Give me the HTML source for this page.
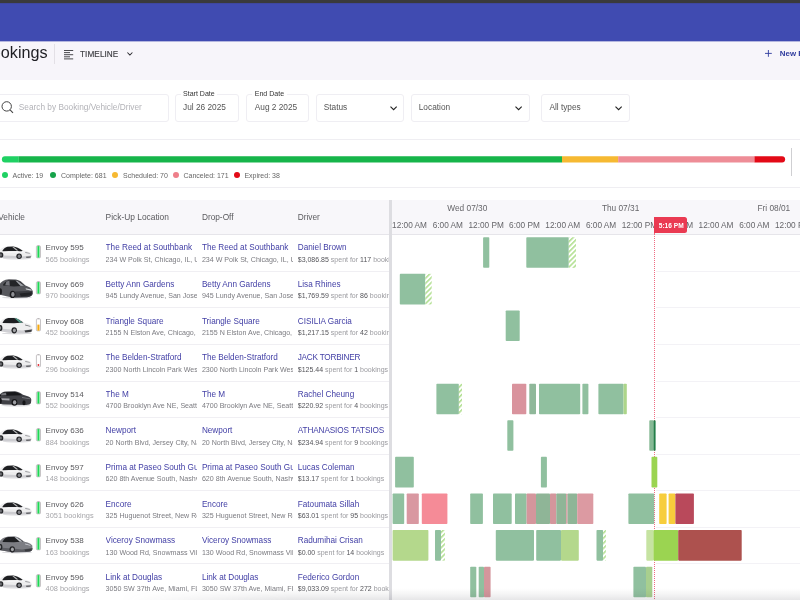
<!DOCTYPE html>
<html><head><meta charset="utf-8"><title>Bookings</title><style>
*{margin:0;padding:0;box-sizing:border-box}
html,body{width:800px;height:600px;overflow:hidden;background:#fff;font-family:"Liberation Sans", sans-serif;}
#root{position:relative;width:800px;height:600px;overflow:hidden;background:#fff;will-change:transform;transform:translateZ(0)}
.t{position:absolute;white-space:nowrap;line-height:1;display:block}
.b{position:absolute}
.clip{position:absolute;overflow:hidden}
.clip .t{position:absolute}
svg{position:absolute;overflow:visible}
.hatch{position:absolute;background:repeating-linear-gradient(135deg,#b3e093 0,#b3e093 1.5px,#ffffff 1.5px,#ffffff 3.5px)}
</style></head><body><div id="root">
<div class="b" style="left:0.00px;top:41.00px;width:800.00px;height:39.00px;background:#f7f5fa"></div>
<div class="b" style="left:0.00px;top:3.00px;width:800.00px;height:38.00px;background:#404bb1"></div>
<div class="b" style="left:0.00px;top:41.00px;width:800.00px;height:1.00px;background:#b4b6df"></div>
<div class="b" style="left:0.00px;top:0.00px;width:800.00px;height:3.00px;background:#3a3a3c"></div>
<div class="b" style="left:0.00px;top:3.00px;width:800.00px;height:1.00px;background:#3f47a0"></div>
<span class="t" style="top:44.00px;font-size:16.2px;color:#1f1f24;right:752.40px;">Bookings</span>
<div class="b" style="left:54.00px;top:44.00px;width:1.00px;height:20.00px;background:#e3e0e6"></div>
<svg style="left:64.4px;top:49.6px" width="9.2" height="9.4" viewBox="0 0 9.2 9.4"><g fill="#4a4a4e"><rect x="0" y="0" width="9.2" height="1"/><rect x="0" y="2.1" width="6" height="1"/><rect x="0" y="4.2" width="9.2" height="1"/><rect x="0" y="6.3" width="6" height="1"/><rect x="0" y="8.4" width="9.2" height="1"/></g></svg>
<span class="t" style="top:51.00px;font-size:8.2px;color:#3c3c40;letter-spacing:0.08px;left:80.00px;-webkit-text-stroke:0.15px #3c3c40;">TIMELINE</span>
<svg style="left:126.9px;top:52.4px" width="5.8" height="3.8" viewBox="0 0 5.8 3.8"><path d="M0.4 0.5 L2.9 3 L5.4 0.5" fill="none" stroke="#2e2e32" stroke-width="1.05"/></svg>
<svg style="left:765.2px;top:50px" width="6.8" height="6.8" viewBox="0 0 6.8 6.8"><path d="M3.4 0V6.8M0 3.4H6.8" stroke="#2f3b9d" stroke-width="0.9" fill="none"/></svg>
<span class="t" style="top:50.00px;font-size:7.9px;color:#2f3b9d;font-weight:700;left:779.80px;"><span>New</span> Booking</span>
<div class="b" style="left:-5.00px;top:94.00px;width:173.70px;height:27.50px;border:1px solid #efeef3;border-radius:3px;background:#fff"></div>
<div class="b" style="left:175.00px;top:94.00px;width:63.70px;height:27.50px;border:1px solid #efeef3;border-radius:3px;background:#fff"></div>
<div class="b" style="left:246.40px;top:94.00px;width:63.10px;height:27.50px;border:1px solid #efeef3;border-radius:3px;background:#fff"></div>
<div class="b" style="left:316.40px;top:94.00px;width:88.10px;height:27.50px;border:1px solid #efeef3;border-radius:3px;background:#fff"></div>
<div class="b" style="left:411.40px;top:94.00px;width:119.00px;height:27.50px;border:1px solid #efeef3;border-radius:3px;background:#fff"></div>
<div class="b" style="left:541.00px;top:94.00px;width:88.50px;height:27.50px;border:1px solid #efeef3;border-radius:3px;background:#fff"></div>
<svg style="left:1.0px;top:101.1px" width="13" height="13" viewBox="0 0 13 13"><circle cx="5.7" cy="5.4" r="4.7" fill="none" stroke="#444" stroke-width="1"/><path d="M9.1 8.9 L12 11.8" stroke="#444" stroke-width="1.1" fill="none"/></svg>
<span class="t" style="top:103.00px;font-size:8.3px;color:#b3b3b8;left:18.75px;">Search by Booking/Vehicle/Driver</span>
<span class="t" style="left:180.50px;top:89.00px;font-size:7.05px;color:#333;background:#fff;padding:1px 2.5px;font-weight:400"><span>Start Date</span></span>
<span class="t" style="left:252.25px;top:89.00px;font-size:7.05px;color:#333;background:#fff;padding:1px 2.5px;font-weight:400"><span>End Date</span></span>
<span class="t" style="top:103.00px;font-size:8.3px;color:#555;left:183.00px;">Jul 26 2025</span>
<span class="t" style="top:103.00px;font-size:8.3px;color:#555;left:254.75px;">Aug 2 2025</span>
<span class="t" style="top:103.00px;font-size:8.3px;color:#555;left:323.75px;">Status</span>
<span class="t" style="top:103.00px;font-size:8.3px;color:#555;left:418.75px;">Location</span>
<span class="t" style="top:103.00px;font-size:8.3px;color:#555;left:549.40px;">All types</span>
<svg style="left:390.00px;top:105.8px" width="7.2" height="4.6" viewBox="0 0 7.2 4.6"><path d="M0.5 0.6 L3.6 3.7 L6.7 0.6" fill="none" stroke="#222" stroke-width="1.1"/></svg>
<svg style="left:515.00px;top:105.8px" width="7.2" height="4.6" viewBox="0 0 7.2 4.6"><path d="M0.5 0.6 L3.6 3.7 L6.7 0.6" fill="none" stroke="#222" stroke-width="1.1"/></svg>
<svg style="left:614.60px;top:105.8px" width="7.2" height="4.6" viewBox="0 0 7.2 4.6"><path d="M0.5 0.6 L3.6 3.7 L6.7 0.6" fill="none" stroke="#222" stroke-width="1.1"/></svg>
<div class="b" style="left:0.00px;top:139.00px;width:800.00px;height:1.00px;background:#efeef2"></div>
<div class="b" style="left:0.00px;top:187.00px;width:800.00px;height:1.00px;background:#efeef2"></div>
<svg style="left:0;top:0" width="800" height="200" viewBox="0 0 800 200"><defs><clipPath id="pc"><rect x="1.9" y="156.35" width="783.2" height="6.1" rx="3.05"/></clipPath></defs><g clip-path="url(#pc)"><rect x="0" y="150" width="18.7" height="20" fill="#1fd163"/><rect x="18.6" y="150" width="543.5" height="20" fill="#16b54a"/><rect x="562" y="150" width="56.3" height="20" fill="#f6b932"/><rect x="618.2" y="150" width="136.4" height="20" fill="#ee8d97"/><rect x="754.5" y="150" width="60" height="20" fill="#e30a17"/></g></svg>
<div class="b" style="left:791.00px;top:148.00px;width:1.00px;height:27.50px;background:#cfcfd2"></div>
<div class="b" style="left:1.90px;top:172.30px;width:5.90px;height:5.90px;border-radius:50%;background:#1fd163"></div>
<span class="t" style="top:172.00px;font-size:7.0px;color:#666;left:12.50px;">Active: 19</span>
<div class="b" style="left:50.00px;top:172.30px;width:5.90px;height:5.90px;border-radius:50%;background:#16a34a"></div>
<span class="t" style="top:172.00px;font-size:7.0px;color:#666;left:61.00px;">Complete: 681</span>
<div class="b" style="left:112.20px;top:172.30px;width:5.90px;height:5.90px;border-radius:50%;background:#f6b932"></div>
<span class="t" style="top:172.00px;font-size:7.0px;color:#666;left:123.10px;">Scheduled: 70</span>
<div class="b" style="left:172.70px;top:172.30px;width:5.90px;height:5.90px;border-radius:50%;background:#ee7f8a"></div>
<span class="t" style="top:172.00px;font-size:7.0px;color:#666;left:183.50px;">Canceled: 171</span>
<div class="b" style="left:233.70px;top:172.30px;width:5.90px;height:5.90px;border-radius:50%;background:#e30a17"></div>
<span class="t" style="top:172.00px;font-size:7.0px;color:#666;left:244.40px;">Expired: 38</span>
<div class="b" style="left:0.00px;top:200.00px;width:800.00px;height:34.50px;background:#f8f7fa"></div>
<div class="b" style="left:0.00px;top:234.20px;width:800.00px;height:1.00px;background:#e6e5ea"></div>
<span class="t" style="top:213.00px;font-size:8.3px;color:#5a5a5e;right:775.00px;">Vehicle</span>
<span class="t" style="top:213.00px;font-size:8.4px;color:#5a5a5e;left:105.60px;">Pick-Up Location</span>
<span class="t" style="top:213.00px;font-size:8.3px;color:#5a5a5e;left:201.90px;">Drop-Off</span>
<span class="t" style="top:213.00px;font-size:8.3px;color:#5a5a5e;left:297.75px;">Driver</span>
<svg style="left:0;top:245.60px;filter:blur(0.3px)" width="32" height="13.4" viewBox="0 0 32 13.4"><ellipse cx="17" cy="12.5" rx="14" ry="0.9" fill="#dcdcdf"/><path d="M-1 5.4 C0.5 3 3 0.8 7 0.3 L13 0.1 C16 0.3 19 2 23.3 4.6 C27 5.2 30.4 6.2 31.2 7.4 C31.7 8.4 31.7 9.6 31.4 10.6 C31 11.8 29.6 12.3 27.6 12.3 L4 12.2 L-1 11.6Z" fill="#ededee"/><path d="M-1 9.2 L16 10 L22 10.6 L31.5 9.4 C31.6 10 31.5 10.4 31.4 10.6 C31 11.8 29.6 12.3 27.6 12.3 L4 12.2 L-1 11.6Z" fill="#cdcdd1"/><path d="M3 6.2 C9 5.6 16 5.6 22.5 5.4 L28 6.4 L22 6.6 C16 6.4 9 6.6 3 7Z" fill="#f8f8f9"/><path d="M2.4 4.8 C3.8 2.5 5.6 1 7.6 0.75 L13.2 0.55 C16 0.8 19 2.4 22.7 4.7 L21.4 5.25 C17 4.7 10 4.8 2.7 5.3Z" fill="#1d1e21"/><path d="M12.3 0.9 L13.9 0.9 L18.4 4.5 L16.4 4.55Z" fill="#ededee" opacity=".75"/><path d="M25.2 6.2 L29.8 7 L29.9 7.5 L25.4 6.9Z" fill="#6f7075"/><path d="M26 10.8 L31 10.4 L30.6 11.6 L26.4 11.8Z" fill="#3a3b3f"/><circle cx="19.1" cy="10.3" r="2.75" fill="#242528"/><ellipse cx="19.2" cy="10.3" rx="1.5" ry="1.7" fill="#85868b"/><ellipse cx="0.9" cy="8.9" rx="2.4" ry="2.7" fill="#242528"/><ellipse cx="0.7" cy="8.9" rx="1.2" ry="1.5" fill="#6f7075"/></svg>
<svg style="left:35.9px;top:244.60px" width="4.9" height="13.2" viewBox="0 0 4.9 13.2"><rect x="1.55" y="0" width="1.8" height="1" fill="#bcb8ba"/><rect x="0.4" y="0.9" width="4.1" height="11.9" rx="0.8" fill="#fff" stroke="#bcb8ba" stroke-width="0.85"/><rect x="1.4" y="1.1" width="2.1" height="11.5" fill="#1fd655"/></svg>
<span class="t" style="top:244.00px;font-size:8.05px;color:#5a5a5e;left:45.60px;">Envoy 595</span>
<span class="t" style="top:256.00px;font-size:7.4px;color:#a6a6aa;left:45.60px;">565 bookings</span>
<div class="clip" style="left:105.60px;top:234px;width:91.3px;height:37.6px">
<span class="t" style="top:10.00px;font-size:8.2px;color:#4340a6;left:0.00px;">The Reed at Southbank</span>
<span class="t" style="top:23.00px;font-size:7.1px;color:#7b7b80;left:0.00px;">234 W Polk St, Chicago, IL, USA</span>
</div>
<div class="clip" style="left:201.90px;top:234px;width:91.3px;height:37.6px">
<span class="t" style="top:10.00px;font-size:8.2px;color:#4340a6;left:0.00px;">The Reed at Southbank</span>
<span class="t" style="top:23.00px;font-size:7.1px;color:#7b7b80;left:0.00px;">234 W Polk St, Chicago, IL, USA</span>
</div>
<div class="clip" style="left:297.75px;top:234px;width:91.6px;height:37.6px">
<span class="t" style="top:10.00px;font-size:8.2px;color:#4340a6;left:0.00px;">Daniel Brown</span>
<span class="t" style="top:22.00px;font-size:7.0px;color:#9a9a9f;left:0.00px;"><span style="color:#55555a">$3,086.85</span> spent for <span style="color:#55555a">117</span> bookings</span>
</div>
<div class="b" style="left:0.00px;top:271.00px;width:389.00px;height:1.00px;background:#f0eff3"></div>
<svg style="left:0;top:279.10px;filter:blur(0.3px)" width="33" height="19.8" viewBox="0 0 33 19.8"><ellipse cx="17" cy="18.6" rx="15" ry="1.1" fill="#dcdcdf"/><path d="M-1 6 C1 2.6 4 0.6 9 0.3 L16 0.4 C19.5 0.8 22 3 25.5 6.4 C29 7.6 31.6 9.2 32.4 11.4 L32.6 14.8 C32.3 16.8 30.5 17.8 27 18.2 L12 18.6 L-1 15.4 Z" fill="#57585d"/><path d="M15 12.4 L32.5 11.8 L32.6 14.8 C32.3 16.8 30.5 17.8 27 18.2 L15 18.6Z" fill="#3a3b40"/><path d="M3 5.6 C5 2.6 7 1.4 10 1.2 L16 1.3 C19 1.8 21.4 3.8 24.6 6.8 L14 7.6 L3 6.4Z" fill="#232427"/><path d="M15.4 1.6 L17.6 1.9 L24.2 6.7 L20.6 7.1Z" fill="#b4b7bd" opacity=".85"/><path d="M6.4 2.5 L9.4 1.8 L9.8 6.7 L5.2 6.3Z" fill="#74757b"/><path d="M25.6 9.2 L31.3 10.5 L31.6 11.7 L26 10.5Z" fill="#d2d4d8"/><path d="M19.5 14.4 L32 13.2 L31.2 16.2 L21 17.4Z" fill="#222326"/><ellipse cx="12.6" cy="15.4" rx="2.9" ry="3.6" fill="#1b1b1e"/><ellipse cx="12.9" cy="15.4" rx="1.7" ry="2.3" fill="#8f9095"/><ellipse cx="0.2" cy="12.4" rx="1.8" ry="3.2" fill="#1b1b1e"/></svg>
<svg style="left:35.9px;top:281.20px" width="4.9" height="13.2" viewBox="0 0 4.9 13.2"><rect x="1.55" y="0" width="1.8" height="1" fill="#bcb8ba"/><rect x="0.4" y="0.9" width="4.1" height="11.9" rx="0.8" fill="#fff" stroke="#bcb8ba" stroke-width="0.85"/><rect x="1.4" y="1.1" width="2.1" height="11.5" fill="#1fd655"/></svg>
<span class="t" style="top:281.00px;font-size:8.05px;color:#5a5a5e;left:45.60px;">Envoy 669</span>
<span class="t" style="top:292.00px;font-size:7.4px;color:#a6a6aa;left:45.60px;">970 bookings</span>
<div class="clip" style="left:105.60px;top:271px;width:91.3px;height:37.6px">
<span class="t" style="top:10.00px;font-size:8.2px;color:#4340a6;left:0.00px;">Betty Ann Gardens</span>
<span class="t" style="top:22.00px;font-size:7.1px;color:#7b7b80;left:0.00px;">945 Lundy Avenue, San Jose, CA, USA</span>
</div>
<div class="clip" style="left:201.90px;top:271px;width:91.3px;height:37.6px">
<span class="t" style="top:10.00px;font-size:8.2px;color:#4340a6;left:0.00px;">Betty Ann Gardens</span>
<span class="t" style="top:22.00px;font-size:7.1px;color:#7b7b80;left:0.00px;">945 Lundy Avenue, San Jose, CA, USA</span>
</div>
<div class="clip" style="left:297.75px;top:271px;width:91.6px;height:37.6px">
<span class="t" style="top:10.00px;font-size:8.2px;color:#4340a6;left:0.00px;">Lisa Rhines</span>
<span class="t" style="top:21.00px;font-size:7.0px;color:#9a9a9f;left:0.00px;"><span style="color:#55555a">$1,769.59</span> spent for <span style="color:#55555a">86</span> bookings</span>
</div>
<div class="b" style="left:0.00px;top:307.00px;width:389.00px;height:1.00px;background:#f0eff3"></div>
<svg style="left:0;top:317.20px;filter:blur(0.3px)" width="33" height="17.4" viewBox="0 0 33 17.4"><ellipse cx="17" cy="16.4" rx="15" ry="1" fill="#dcdcdf"/><path d="M-1 6 C1 3 4 1 8 0.5 L14 0.3 C17.5 0.6 20.5 2.6 24 5.4 C28 6.4 31.6 7.8 32.3 9.6 L32.5 13 C32.2 15 30.4 15.8 27.5 16 L12 16.2 L-1 14Z" fill="#eeeeef"/><path d="M-1 11.4 L12 12.6 L22 13.6 L32.5 12 L32.5 13 C32.2 15 30.4 15.8 27.5 16 L12 16.2 L-1 14Z" fill="#cfcfd3"/><path d="M2.6 5.5 C4 3 6 1.4 8.4 1.1 L14 0.9 C17 1.2 20 3 23.4 5.6 L14 6.3 L2.8 6Z" fill="#1d1e21"/><path d="M14.6 1.2 L16.4 1.3 L22.6 5.45 L19.8 5.75Z" fill="#4f9a86"/><path d="M25 7.6 L30.4 9 L30.4 9.7 L25.2 8.5Z" fill="#77787d"/><path d="M24.5 13.6 L32 12.6 L31.4 14.8 L25.4 15.4Z" fill="#3a3b3f"/><ellipse cx="14.2" cy="13.3" rx="2.7" ry="3.1" fill="#242528"/><ellipse cx="14.399999999999999" cy="13.3" rx="1.5" ry="1.9" fill="#a3a4a8"/><ellipse cx="0.5" cy="11" rx="1.9" ry="2.9" fill="#242528"/><ellipse cx="0.2" cy="11" rx="0.9" ry="1.7" fill="#8a8b90"/></svg>
<svg style="left:35.9px;top:317.80px" width="4.9" height="13.2" viewBox="0 0 4.9 13.2"><rect x="1.55" y="0" width="1.8" height="1" fill="#bcb8ba"/><rect x="0.4" y="0.9" width="4.1" height="11.9" rx="0.8" fill="#fff" stroke="#bcb8ba" stroke-width="0.85"/><rect x="1.4" y="6.6" width="2.1" height="6.0" fill="#f5a90f"/></svg>
<span class="t" style="top:318.00px;font-size:8.05px;color:#5a5a5e;left:45.60px;">Envoy 608</span>
<span class="t" style="top:329.00px;font-size:7.4px;color:#a6a6aa;left:45.60px;">452 bookings</span>
<div class="clip" style="left:105.60px;top:307px;width:91.3px;height:37.6px">
<span class="t" style="top:11.00px;font-size:8.2px;color:#4340a6;left:0.00px;">Triangle Square</span>
<span class="t" style="top:23.00px;font-size:7.1px;color:#7b7b80;left:0.00px;">2155 N Elston Ave, Chicago, IL, USA</span>
</div>
<div class="clip" style="left:201.90px;top:307px;width:91.3px;height:37.6px">
<span class="t" style="top:11.00px;font-size:8.2px;color:#4340a6;left:0.00px;">Triangle Square</span>
<span class="t" style="top:23.00px;font-size:7.1px;color:#7b7b80;left:0.00px;">2155 N Elston Ave, Chicago, IL, USA</span>
</div>
<div class="clip" style="left:297.75px;top:307px;width:91.6px;height:37.6px">
<span class="t" style="top:11.00px;font-size:8.2px;color:#4340a6;left:0.00px;">CISILIA Garcia</span>
<span class="t" style="top:22.00px;font-size:7.0px;color:#9a9a9f;left:0.00px;"><span style="color:#55555a">$1,217.15</span> spent for <span style="color:#55555a">42</span> bookings</span>
</div>
<div class="b" style="left:0.00px;top:344.00px;width:389.00px;height:1.00px;background:#f0eff3"></div>
<svg style="left:0;top:355.40px;filter:blur(0.3px)" width="32" height="13.4" viewBox="0 0 32 13.4"><ellipse cx="17" cy="12.5" rx="14" ry="0.9" fill="#dcdcdf"/><path d="M-1 5.4 C0.5 3 3 0.8 7 0.3 L13 0.1 C16 0.3 19 2 23.3 4.6 C27 5.2 30.4 6.2 31.2 7.4 C31.7 8.4 31.7 9.6 31.4 10.6 C31 11.8 29.6 12.3 27.6 12.3 L4 12.2 L-1 11.6Z" fill="#ededee"/><path d="M-1 9.2 L16 10 L22 10.6 L31.5 9.4 C31.6 10 31.5 10.4 31.4 10.6 C31 11.8 29.6 12.3 27.6 12.3 L4 12.2 L-1 11.6Z" fill="#cdcdd1"/><path d="M3 6.2 C9 5.6 16 5.6 22.5 5.4 L28 6.4 L22 6.6 C16 6.4 9 6.6 3 7Z" fill="#f8f8f9"/><path d="M2.4 4.8 C3.8 2.5 5.6 1 7.6 0.75 L13.2 0.55 C16 0.8 19 2.4 22.7 4.7 L21.4 5.25 C17 4.7 10 4.8 2.7 5.3Z" fill="#1d1e21"/><path d="M12.3 0.9 L13.9 0.9 L18.4 4.5 L16.4 4.55Z" fill="#ededee" opacity=".75"/><path d="M25.2 6.2 L29.8 7 L29.9 7.5 L25.4 6.9Z" fill="#6f7075"/><path d="M26 10.8 L31 10.4 L30.6 11.6 L26.4 11.8Z" fill="#3a3b3f"/><circle cx="19.1" cy="10.3" r="2.75" fill="#242528"/><ellipse cx="19.2" cy="10.3" rx="1.5" ry="1.7" fill="#85868b"/><ellipse cx="0.9" cy="8.9" rx="2.4" ry="2.7" fill="#242528"/><ellipse cx="0.7" cy="8.9" rx="1.2" ry="1.5" fill="#6f7075"/></svg>
<svg style="left:35.9px;top:354.40px" width="4.9" height="13.2" viewBox="0 0 4.9 13.2"><rect x="1.55" y="0" width="1.8" height="1" fill="#bcb8ba"/><rect x="0.4" y="0.9" width="4.1" height="11.9" rx="0.8" fill="#fff" stroke="#bcb8ba" stroke-width="0.85"/><circle cx="2.45" cy="11" r="0.95" fill="#e3262e"/></svg>
<span class="t" style="top:354.00px;font-size:8.05px;color:#5a5a5e;left:45.60px;">Envoy 602</span>
<span class="t" style="top:366.00px;font-size:7.4px;color:#a6a6aa;left:45.60px;">296 bookings</span>
<div class="clip" style="left:105.60px;top:344px;width:91.3px;height:37.6px">
<span class="t" style="top:10.00px;font-size:8.2px;color:#4340a6;left:0.00px;">The Belden-Stratford</span>
<span class="t" style="top:23.00px;font-size:7.1px;color:#7b7b80;left:0.00px;">2300 North Lincoln Park West, Chicago</span>
</div>
<div class="clip" style="left:201.90px;top:344px;width:91.3px;height:37.6px">
<span class="t" style="top:10.00px;font-size:8.2px;color:#4340a6;left:0.00px;">The Belden-Stratford</span>
<span class="t" style="top:23.00px;font-size:7.1px;color:#7b7b80;left:0.00px;">2300 North Lincoln Park West, Chicago</span>
</div>
<div class="clip" style="left:297.75px;top:344px;width:91.6px;height:37.6px">
<span class="t" style="top:10.00px;font-size:8.2px;color:#4340a6;letter-spacing:-0.22px;left:0.00px;">JACK TORBINER</span>
<span class="t" style="top:22.00px;font-size:7.0px;color:#9a9a9f;left:0.00px;"><span style="color:#55555a">$125.44</span> spent for <span style="color:#55555a">1</span> bookings</span>
</div>
<div class="b" style="left:0.00px;top:381.00px;width:389.00px;height:1.00px;background:#f0eff3"></div>
<svg style="left:0;top:390.90px;filter:blur(0.3px)" width="32" height="15.6" viewBox="0 0 32 15.6"><ellipse cx="16" cy="14.6" rx="15" ry="0.9" fill="#dcdcdf"/><path d="M-1 4.4 C1 1.8 3 0.8 6 0.5 L15 0.3 C18 0.5 20.5 2 23 3.8 L28.5 5.4 C30.6 6.2 31.4 7.4 31.3 9 L31 12 C30.6 13.4 28.5 13.8 26 13.9 L3 13.4 L-1 12.4 Z" fill="#3f4045"/><path d="M0 4.3 C2 2 4 1.4 6 1.2 L15 1 C17.6 1.3 19.6 2.6 21.8 4.3 L0 4.9Z" fill="#17181b"/><path d="M1.6 2.6 L6 1.8 L6.4 4.2 L1 4.5Z" fill="#8d8e93" opacity=".8"/><path d="M1 7.2 L9.5 7.6 L9.5 9.4 L1 9Z" fill="#a4a5aa"/><path d="M22 6 L30.4 7.4 L30.4 8.2 L22 7Z" fill="#77787d"/><ellipse cx="14.4" cy="11.4" rx="2.9" ry="3.3" fill="#151518"/><ellipse cx="14.6" cy="11.4" rx="1.7" ry="2.1" fill="#9c9da2"/><ellipse cx="24" cy="11.8" rx="1.6" ry="2.5" fill="#151518"/><ellipse cx="0.2" cy="9.8" rx="1.6" ry="3" fill="#151518"/></svg>
<svg style="left:35.9px;top:391.00px" width="4.9" height="13.2" viewBox="0 0 4.9 13.2"><rect x="1.55" y="0" width="1.8" height="1" fill="#bcb8ba"/><rect x="0.4" y="0.9" width="4.1" height="11.9" rx="0.8" fill="#fff" stroke="#bcb8ba" stroke-width="0.85"/><rect x="1.4" y="1.1" width="2.1" height="11.5" fill="#1fd655"/></svg>
<span class="t" style="top:391.00px;font-size:8.05px;color:#5a5a5e;left:45.60px;">Envoy 514</span>
<span class="t" style="top:402.00px;font-size:7.4px;color:#a6a6aa;left:45.60px;">552 bookings</span>
<div class="clip" style="left:105.60px;top:380px;width:91.3px;height:37.6px">
<span class="t" style="top:11.00px;font-size:8.2px;color:#4340a6;left:0.00px;">The M</span>
<span class="t" style="top:23.00px;font-size:7.1px;color:#7b7b80;left:0.00px;">4700 Brooklyn Ave NE, Seattle, WA</span>
</div>
<div class="clip" style="left:201.90px;top:380px;width:91.3px;height:37.6px">
<span class="t" style="top:11.00px;font-size:8.2px;color:#4340a6;left:0.00px;">The M</span>
<span class="t" style="top:23.00px;font-size:7.1px;color:#7b7b80;left:0.00px;">4700 Brooklyn Ave NE, Seattle, WA</span>
</div>
<div class="clip" style="left:297.75px;top:380px;width:91.6px;height:37.6px">
<span class="t" style="top:11.00px;font-size:8.2px;color:#4340a6;left:0.00px;">Rachel Cheung</span>
<span class="t" style="top:22.00px;font-size:7.0px;color:#9a9a9f;left:0.00px;"><span style="color:#55555a">$220.92</span> spent for <span style="color:#55555a">4</span> bookings</span>
</div>
<div class="b" style="left:0.00px;top:417.00px;width:389.00px;height:1.00px;background:#f0eff3"></div>
<svg style="left:0;top:428.60px;filter:blur(0.3px)" width="32" height="13.4" viewBox="0 0 32 13.4"><ellipse cx="17" cy="12.5" rx="14" ry="0.9" fill="#dcdcdf"/><path d="M-1 5.4 C0.5 3 3 0.8 7 0.3 L13 0.1 C16 0.3 19 2 23.3 4.6 C27 5.2 30.4 6.2 31.2 7.4 C31.7 8.4 31.7 9.6 31.4 10.6 C31 11.8 29.6 12.3 27.6 12.3 L4 12.2 L-1 11.6Z" fill="#ededee"/><path d="M-1 9.2 L16 10 L22 10.6 L31.5 9.4 C31.6 10 31.5 10.4 31.4 10.6 C31 11.8 29.6 12.3 27.6 12.3 L4 12.2 L-1 11.6Z" fill="#cdcdd1"/><path d="M3 6.2 C9 5.6 16 5.6 22.5 5.4 L28 6.4 L22 6.6 C16 6.4 9 6.6 3 7Z" fill="#f8f8f9"/><path d="M2.4 4.8 C3.8 2.5 5.6 1 7.6 0.75 L13.2 0.55 C16 0.8 19 2.4 22.7 4.7 L21.4 5.25 C17 4.7 10 4.8 2.7 5.3Z" fill="#1d1e21"/><path d="M12.3 0.9 L13.9 0.9 L18.4 4.5 L16.4 4.55Z" fill="#ededee" opacity=".75"/><path d="M25.2 6.2 L29.8 7 L29.9 7.5 L25.4 6.9Z" fill="#6f7075"/><path d="M26 10.8 L31 10.4 L30.6 11.6 L26.4 11.8Z" fill="#3a3b3f"/><circle cx="19.1" cy="10.3" r="2.75" fill="#242528"/><ellipse cx="19.2" cy="10.3" rx="1.5" ry="1.7" fill="#85868b"/><ellipse cx="0.9" cy="8.9" rx="2.4" ry="2.7" fill="#242528"/><ellipse cx="0.7" cy="8.9" rx="1.2" ry="1.5" fill="#6f7075"/></svg>
<svg style="left:35.9px;top:427.60px" width="4.9" height="13.2" viewBox="0 0 4.9 13.2"><rect x="1.55" y="0" width="1.8" height="1" fill="#bcb8ba"/><rect x="0.4" y="0.9" width="4.1" height="11.9" rx="0.8" fill="#fff" stroke="#bcb8ba" stroke-width="0.85"/><rect x="1.4" y="1.1" width="2.1" height="11.5" fill="#1fd655"/></svg>
<span class="t" style="top:427.00px;font-size:8.05px;color:#5a5a5e;left:45.60px;">Envoy 636</span>
<span class="t" style="top:439.00px;font-size:7.4px;color:#a6a6aa;left:45.60px;">884 bookings</span>
<div class="clip" style="left:105.60px;top:417px;width:91.3px;height:37.6px">
<span class="t" style="top:10.00px;font-size:8.2px;color:#4340a6;left:0.00px;">Newport</span>
<span class="t" style="top:23.00px;font-size:7.1px;color:#7b7b80;left:0.00px;">20 North Blvd, Jersey City, NJ, USA</span>
</div>
<div class="clip" style="left:201.90px;top:417px;width:91.3px;height:37.6px">
<span class="t" style="top:10.00px;font-size:8.2px;color:#4340a6;left:0.00px;">Newport</span>
<span class="t" style="top:23.00px;font-size:7.1px;color:#7b7b80;left:0.00px;">20 North Blvd, Jersey City, NJ, USA</span>
</div>
<div class="clip" style="left:297.75px;top:417px;width:91.6px;height:37.6px">
<span class="t" style="top:10.00px;font-size:8.2px;color:#4340a6;letter-spacing:-0.1px;left:0.00px;">ATHANASIOS TATSIOS</span>
<span class="t" style="top:22.00px;font-size:7.0px;color:#9a9a9f;left:0.00px;"><span style="color:#55555a">$234.94</span> spent for <span style="color:#55555a">9</span> bookings</span>
</div>
<div class="b" style="left:0.00px;top:454.00px;width:389.00px;height:1.00px;background:#f0eff3"></div>
<svg style="left:0;top:465.20px;filter:blur(0.3px)" width="32" height="13.4" viewBox="0 0 32 13.4"><ellipse cx="17" cy="12.5" rx="14" ry="0.9" fill="#dcdcdf"/><path d="M-1 5.4 C0.5 3 3 0.8 7 0.3 L13 0.1 C16 0.3 19 2 23.3 4.6 C27 5.2 30.4 6.2 31.2 7.4 C31.7 8.4 31.7 9.6 31.4 10.6 C31 11.8 29.6 12.3 27.6 12.3 L4 12.2 L-1 11.6Z" fill="#ededee"/><path d="M-1 9.2 L16 10 L22 10.6 L31.5 9.4 C31.6 10 31.5 10.4 31.4 10.6 C31 11.8 29.6 12.3 27.6 12.3 L4 12.2 L-1 11.6Z" fill="#cdcdd1"/><path d="M3 6.2 C9 5.6 16 5.6 22.5 5.4 L28 6.4 L22 6.6 C16 6.4 9 6.6 3 7Z" fill="#f8f8f9"/><path d="M2.4 4.8 C3.8 2.5 5.6 1 7.6 0.75 L13.2 0.55 C16 0.8 19 2.4 22.7 4.7 L21.4 5.25 C17 4.7 10 4.8 2.7 5.3Z" fill="#1d1e21"/><path d="M12.3 0.9 L13.9 0.9 L18.4 4.5 L16.4 4.55Z" fill="#ededee" opacity=".75"/><path d="M25.2 6.2 L29.8 7 L29.9 7.5 L25.4 6.9Z" fill="#6f7075"/><path d="M26 10.8 L31 10.4 L30.6 11.6 L26.4 11.8Z" fill="#3a3b3f"/><circle cx="19.1" cy="10.3" r="2.75" fill="#242528"/><ellipse cx="19.2" cy="10.3" rx="1.5" ry="1.7" fill="#85868b"/><ellipse cx="0.9" cy="8.9" rx="2.4" ry="2.7" fill="#242528"/><ellipse cx="0.7" cy="8.9" rx="1.2" ry="1.5" fill="#6f7075"/></svg>
<svg style="left:35.9px;top:464.20px" width="4.9" height="13.2" viewBox="0 0 4.9 13.2"><rect x="1.55" y="0" width="1.8" height="1" fill="#bcb8ba"/><rect x="0.4" y="0.9" width="4.1" height="11.9" rx="0.8" fill="#fff" stroke="#bcb8ba" stroke-width="0.85"/><rect x="1.4" y="1.1" width="2.1" height="11.5" fill="#1fd655"/></svg>
<span class="t" style="top:464.00px;font-size:8.05px;color:#5a5a5e;left:45.60px;">Envoy 597</span>
<span class="t" style="top:475.00px;font-size:7.4px;color:#a6a6aa;left:45.60px;">148 bookings</span>
<div class="clip" style="left:105.60px;top:454px;width:91.3px;height:37.6px">
<span class="t" style="top:10.00px;font-size:8.2px;color:#4340a6;left:0.00px;">Prima at Paseo South Gulch</span>
<span class="t" style="top:22.00px;font-size:7.1px;color:#7b7b80;left:0.00px;">620 8th Avenue South, Nashville, TN</span>
</div>
<div class="clip" style="left:201.90px;top:454px;width:91.3px;height:37.6px">
<span class="t" style="top:10.00px;font-size:8.2px;color:#4340a6;left:0.00px;">Prima at Paseo South Gulch</span>
<span class="t" style="top:22.00px;font-size:7.1px;color:#7b7b80;left:0.00px;">620 8th Avenue South, Nashville, TN</span>
</div>
<div class="clip" style="left:297.75px;top:454px;width:91.6px;height:37.6px">
<span class="t" style="top:10.00px;font-size:8.2px;color:#4340a6;left:0.00px;">Lucas Coleman</span>
<span class="t" style="top:21.00px;font-size:7.0px;color:#9a9a9f;left:0.00px;"><span style="color:#55555a">$13.17</span> spent for <span style="color:#55555a">1</span> bookings</span>
</div>
<div class="b" style="left:0.00px;top:490.00px;width:389.00px;height:1.00px;background:#f0eff3"></div>
<svg style="left:0;top:501.80px;filter:blur(0.3px)" width="32" height="13.4" viewBox="0 0 32 13.4"><ellipse cx="17" cy="12.5" rx="14" ry="0.9" fill="#dcdcdf"/><path d="M-1 5.4 C0.5 3 3 0.8 7 0.3 L13 0.1 C16 0.3 19 2 23.3 4.6 C27 5.2 30.4 6.2 31.2 7.4 C31.7 8.4 31.7 9.6 31.4 10.6 C31 11.8 29.6 12.3 27.6 12.3 L4 12.2 L-1 11.6Z" fill="#ededee"/><path d="M-1 9.2 L16 10 L22 10.6 L31.5 9.4 C31.6 10 31.5 10.4 31.4 10.6 C31 11.8 29.6 12.3 27.6 12.3 L4 12.2 L-1 11.6Z" fill="#cdcdd1"/><path d="M3 6.2 C9 5.6 16 5.6 22.5 5.4 L28 6.4 L22 6.6 C16 6.4 9 6.6 3 7Z" fill="#f8f8f9"/><path d="M2.4 4.8 C3.8 2.5 5.6 1 7.6 0.75 L13.2 0.55 C16 0.8 19 2.4 22.7 4.7 L21.4 5.25 C17 4.7 10 4.8 2.7 5.3Z" fill="#1d1e21"/><path d="M12.3 0.9 L13.9 0.9 L18.4 4.5 L16.4 4.55Z" fill="#ededee" opacity=".75"/><path d="M25.2 6.2 L29.8 7 L29.9 7.5 L25.4 6.9Z" fill="#6f7075"/><path d="M26 10.8 L31 10.4 L30.6 11.6 L26.4 11.8Z" fill="#3a3b3f"/><circle cx="19.1" cy="10.3" r="2.75" fill="#242528"/><ellipse cx="19.2" cy="10.3" rx="1.5" ry="1.7" fill="#85868b"/><ellipse cx="0.9" cy="8.9" rx="2.4" ry="2.7" fill="#242528"/><ellipse cx="0.7" cy="8.9" rx="1.2" ry="1.5" fill="#6f7075"/></svg>
<svg style="left:35.9px;top:500.80px" width="4.9" height="13.2" viewBox="0 0 4.9 13.2"><rect x="1.55" y="0" width="1.8" height="1" fill="#bcb8ba"/><rect x="0.4" y="0.9" width="4.1" height="11.9" rx="0.8" fill="#fff" stroke="#bcb8ba" stroke-width="0.85"/><rect x="1.4" y="1.1" width="2.1" height="11.5" fill="#1fd655"/></svg>
<span class="t" style="top:501.00px;font-size:8.05px;color:#5a5a5e;left:45.60px;">Envoy 626</span>
<span class="t" style="top:512.00px;font-size:7.4px;color:#a6a6aa;left:45.60px;">3051 bookings</span>
<div class="clip" style="left:105.60px;top:490px;width:91.3px;height:37.6px">
<span class="t" style="top:11.00px;font-size:8.2px;color:#4340a6;left:0.00px;">Encore</span>
<span class="t" style="top:23.00px;font-size:7.1px;color:#7b7b80;left:0.00px;">325 Huguenot Street, New Rochelle, NY</span>
</div>
<div class="clip" style="left:201.90px;top:490px;width:91.3px;height:37.6px">
<span class="t" style="top:11.00px;font-size:8.2px;color:#4340a6;left:0.00px;">Encore</span>
<span class="t" style="top:23.00px;font-size:7.1px;color:#7b7b80;left:0.00px;">325 Huguenot Street, New Rochelle, NY</span>
</div>
<div class="clip" style="left:297.75px;top:490px;width:91.6px;height:37.6px">
<span class="t" style="top:11.00px;font-size:8.2px;color:#4340a6;left:0.00px;">Fatoumata Sillah</span>
<span class="t" style="top:22.00px;font-size:7.0px;color:#9a9a9f;left:0.00px;"><span style="color:#55555a">$63.01</span> spent for <span style="color:#55555a">95</span> bookings</span>
</div>
<div class="b" style="left:0.00px;top:527.00px;width:389.00px;height:1.00px;background:#f0eff3"></div>
<svg style="left:0;top:536.40px;filter:blur(0.3px)" width="33" height="17.4" viewBox="0 0 33 17.4"><ellipse cx="17" cy="16.4" rx="15" ry="1" fill="#dcdcdf"/><path d="M-1 6 C1 3 4 1 8 0.5 L14 0.3 C17.5 0.6 20.5 2.6 24 5.4 C28 6.4 31.6 7.8 32.3 9.6 L32.5 13 C32.2 15 30.4 15.8 27.5 16 L12 16.2 L-1 14Z" fill="#7c7d83"/><path d="M-1 11.4 L12 12.6 L22 13.6 L32.5 12 L32.5 13 C32.2 15 30.4 15.8 27.5 16 L12 16.2 L-1 14Z" fill="#5b5c62"/><path d="M2.6 5.5 C4 3 6 1.4 8.4 1.1 L14 0.9 C17 1.2 20 3 23.4 5.6 L14 6.3 L2.8 6Z" fill="#1d1e21"/><path d="M14.6 1.2 L16.4 1.3 L22.6 5.45 L19.8 5.75Z" fill="#c4c7cd"/><path d="M25 7.6 L30.4 9 L30.4 9.7 L25.2 8.5Z" fill="#c9cbd0"/><path d="M24.5 13.6 L32 12.6 L31.4 14.8 L25.4 15.4Z" fill="#3a3b3f"/><ellipse cx="12.2" cy="13.3" rx="2.7" ry="3.1" fill="#242528"/><ellipse cx="12.399999999999999" cy="13.3" rx="1.5" ry="1.9" fill="#a3a4a8"/><ellipse cx="0.5" cy="11" rx="1.9" ry="2.9" fill="#242528"/><ellipse cx="0.2" cy="11" rx="0.9" ry="1.7" fill="#8a8b90"/></svg>
<svg style="left:35.9px;top:537.40px" width="4.9" height="13.2" viewBox="0 0 4.9 13.2"><rect x="1.55" y="0" width="1.8" height="1" fill="#bcb8ba"/><rect x="0.4" y="0.9" width="4.1" height="11.9" rx="0.8" fill="#fff" stroke="#bcb8ba" stroke-width="0.85"/><rect x="1.4" y="1.1" width="2.1" height="11.5" fill="#1fd655"/></svg>
<span class="t" style="top:537.00px;font-size:8.05px;color:#5a5a5e;left:45.60px;">Envoy 538</span>
<span class="t" style="top:549.00px;font-size:7.4px;color:#a6a6aa;left:45.60px;">163 bookings</span>
<div class="clip" style="left:105.60px;top:527px;width:91.3px;height:37.6px">
<span class="t" style="top:10.00px;font-size:8.2px;color:#4340a6;left:0.00px;">Viceroy Snowmass</span>
<span class="t" style="top:23.00px;font-size:7.1px;color:#7b7b80;left:0.00px;">130 Wood Rd, Snowmass Village, CO</span>
</div>
<div class="clip" style="left:201.90px;top:527px;width:91.3px;height:37.6px">
<span class="t" style="top:10.00px;font-size:8.2px;color:#4340a6;left:0.00px;">Viceroy Snowmass</span>
<span class="t" style="top:23.00px;font-size:7.1px;color:#7b7b80;left:0.00px;">130 Wood Rd, Snowmass Village, CO</span>
</div>
<div class="clip" style="left:297.75px;top:527px;width:91.6px;height:37.6px">
<span class="t" style="top:10.00px;font-size:8.2px;color:#4340a6;left:0.00px;">Radumihai Crisan</span>
<span class="t" style="top:22.00px;font-size:7.0px;color:#9a9a9f;left:0.00px;"><span style="color:#55555a">$0.00</span> spent for <span style="color:#55555a">14</span> bookings</span>
</div>
<div class="b" style="left:0.00px;top:563.00px;width:389.00px;height:1.00px;background:#f0eff3"></div>
<svg style="left:0;top:575.00px;filter:blur(0.3px)" width="32" height="13.4" viewBox="0 0 32 13.4"><ellipse cx="17" cy="12.5" rx="14" ry="0.9" fill="#dcdcdf"/><path d="M-1 5.4 C0.5 3 3 0.8 7 0.3 L13 0.1 C16 0.3 19 2 23.3 4.6 C27 5.2 30.4 6.2 31.2 7.4 C31.7 8.4 31.7 9.6 31.4 10.6 C31 11.8 29.6 12.3 27.6 12.3 L4 12.2 L-1 11.6Z" fill="#ededee"/><path d="M-1 9.2 L16 10 L22 10.6 L31.5 9.4 C31.6 10 31.5 10.4 31.4 10.6 C31 11.8 29.6 12.3 27.6 12.3 L4 12.2 L-1 11.6Z" fill="#cdcdd1"/><path d="M3 6.2 C9 5.6 16 5.6 22.5 5.4 L28 6.4 L22 6.6 C16 6.4 9 6.6 3 7Z" fill="#f8f8f9"/><path d="M2.4 4.8 C3.8 2.5 5.6 1 7.6 0.75 L13.2 0.55 C16 0.8 19 2.4 22.7 4.7 L21.4 5.25 C17 4.7 10 4.8 2.7 5.3Z" fill="#1d1e21"/><path d="M12.3 0.9 L13.9 0.9 L18.4 4.5 L16.4 4.55Z" fill="#ededee" opacity=".75"/><path d="M25.2 6.2 L29.8 7 L29.9 7.5 L25.4 6.9Z" fill="#6f7075"/><path d="M26 10.8 L31 10.4 L30.6 11.6 L26.4 11.8Z" fill="#3a3b3f"/><circle cx="19.1" cy="10.3" r="2.75" fill="#242528"/><ellipse cx="19.2" cy="10.3" rx="1.5" ry="1.7" fill="#85868b"/><ellipse cx="0.9" cy="8.9" rx="2.4" ry="2.7" fill="#242528"/><ellipse cx="0.7" cy="8.9" rx="1.2" ry="1.5" fill="#6f7075"/></svg>
<svg style="left:35.9px;top:574.00px" width="4.9" height="13.2" viewBox="0 0 4.9 13.2"><rect x="1.55" y="0" width="1.8" height="1" fill="#bcb8ba"/><rect x="0.4" y="0.9" width="4.1" height="11.9" rx="0.8" fill="#fff" stroke="#bcb8ba" stroke-width="0.85"/><rect x="1.4" y="1.1" width="2.1" height="11.5" fill="#1fd655"/></svg>
<span class="t" style="top:574.00px;font-size:8.05px;color:#5a5a5e;left:45.60px;">Envoy 596</span>
<span class="t" style="top:585.00px;font-size:7.4px;color:#a6a6aa;left:45.60px;">408 bookings</span>
<div class="clip" style="left:105.60px;top:563px;width:91.3px;height:37.6px">
<span class="t" style="top:11.00px;font-size:8.2px;color:#4340a6;left:0.00px;">Link at Douglas</span>
<span class="t" style="top:23.00px;font-size:7.1px;color:#7b7b80;left:0.00px;">3050 SW 37th Ave, Miami, FL, USA</span>
</div>
<div class="clip" style="left:201.90px;top:563px;width:91.3px;height:37.6px">
<span class="t" style="top:11.00px;font-size:8.2px;color:#4340a6;left:0.00px;">Link at Douglas</span>
<span class="t" style="top:23.00px;font-size:7.1px;color:#7b7b80;left:0.00px;">3050 SW 37th Ave, Miami, FL, USA</span>
</div>
<div class="clip" style="left:297.75px;top:563px;width:91.6px;height:37.6px">
<span class="t" style="top:11.00px;font-size:8.2px;color:#4340a6;left:0.00px;">Federico Gordon</span>
<span class="t" style="top:22.00px;font-size:7.0px;color:#9a9a9f;left:0.00px;"><span style="color:#55555a">$9,033.09</span> spent for <span style="color:#55555a">272</span> bookings</span>
</div>
<span class="t" style="left:427.32px;width:80px;text-align:center;top:204px;font-size:8.3px;color:#66666a">Wed 07/30</span>
<span class="t" style="left:580.57px;width:80px;text-align:center;top:204px;font-size:8.3px;color:#66666a">Thu 07/31</span>
<span class="t" style="left:733.82px;width:80px;text-align:center;top:204px;font-size:8.3px;color:#66666a">Fri 08/01</span>
<span class="t" style="left:379.56px;width:60px;text-align:center;top:222px;font-size:8.25px;color:#66666a"><span>12:00 AM</span></span>
<span class="t" style="left:417.87px;width:60px;text-align:center;top:222px;font-size:8.25px;color:#66666a"><span>6:00 AM</span></span>
<span class="t" style="left:456.18px;width:60px;text-align:center;top:222px;font-size:8.25px;color:#66666a"><span>12:00 PM</span></span>
<span class="t" style="left:494.49px;width:60px;text-align:center;top:222px;font-size:8.25px;color:#66666a"><span>6:00 PM</span></span>
<span class="t" style="left:532.81px;width:60px;text-align:center;top:222px;font-size:8.25px;color:#66666a"><span>12:00 AM</span></span>
<span class="t" style="left:571.12px;width:60px;text-align:center;top:222px;font-size:8.25px;color:#66666a"><span>6:00 AM</span></span>
<span class="t" style="left:609.43px;width:60px;text-align:center;top:222px;font-size:8.25px;color:#66666a"><span>12:00 PM</span></span>
<span class="t" style="left:647.74px;width:60px;text-align:center;top:222px;font-size:8.25px;color:#66666a"><span>6:00 PM</span></span>
<span class="t" style="left:686.06px;width:60px;text-align:center;top:222px;font-size:8.25px;color:#66666a"><span>12:00 AM</span></span>
<span class="t" style="left:724.37px;width:60px;text-align:center;top:222px;font-size:8.25px;color:#66666a"><span>6:00 AM</span></span>
<span class="t" style="left:762.68px;width:60px;text-align:center;top:222px;font-size:8.25px;color:#66666a"><span>12:00 PM</span></span>
<div class="b" style="left:655.50px;top:271.00px;width:145.00px;height:1.00px;background:#f3f2f6"></div>
<div class="b" style="left:655.50px;top:307.00px;width:145.00px;height:1.00px;background:#f3f2f6"></div>
<div class="b" style="left:655.50px;top:344.00px;width:145.00px;height:1.00px;background:#f3f2f6"></div>
<div class="b" style="left:655.50px;top:381.00px;width:145.00px;height:1.00px;background:#f3f2f6"></div>
<div class="b" style="left:655.50px;top:417.00px;width:145.00px;height:1.00px;background:#f3f2f6"></div>
<div class="b" style="left:655.50px;top:454.00px;width:145.00px;height:1.00px;background:#f3f2f6"></div>
<div class="b" style="left:655.50px;top:490.00px;width:145.00px;height:1.00px;background:#f3f2f6"></div>
<div class="b" style="left:655.50px;top:527.00px;width:145.00px;height:1.00px;background:#f3f2f6"></div>
<div class="b" style="left:655.50px;top:563.00px;width:145.00px;height:1.00px;background:#f3f2f6"></div>
<div class="b" style="left:389.40px;top:200.00px;width:3.10px;height:400.00px;background:#dddde1"></div>
<div class="b" style="left:654px;top:233px;width:0;height:370px;border-left:1px dotted #ef6c82"></div>
<svg style="left:0;top:0" width="800" height="600" viewBox="0 0 800 600"><defs><pattern id="hp" width="3.6" height="3.6" patternUnits="userSpaceOnUse" patternTransform="rotate(-45)"><rect width="3.6" height="3.6" fill="#fff"/><rect width="3.6" height="1.55" fill="#b0df8e"/></pattern></defs><rect x="483.10" y="237.25" width="6.20" height="30.6" rx="0.8" fill="#90c09f"/><rect x="526.30" y="237.25" width="42.50" height="30.6" rx="0.8" fill="#90c09f"/><rect x="568.80" y="237.25" width="7.20" height="30.6" fill="url(#hp)"/><rect x="399.80" y="273.85" width="25.60" height="30.6" rx="0.8" fill="#90c09f"/><rect x="425.40" y="273.85" width="6.30" height="30.6" fill="url(#hp)"/><rect x="505.70" y="310.45" width="14.00" height="30.6" rx="0.8" fill="#90c09f"/><rect x="436.40" y="383.65" width="22.50" height="30.6" rx="0.8" fill="#90c09f"/><rect x="458.90" y="383.65" width="3.10" height="30.6" fill="url(#hp)"/><rect x="512.00" y="383.65" width="14.30" height="30.6" rx="0.8" fill="#d9939d"/><rect x="529.30" y="383.65" width="6.70" height="30.6" rx="0.8" fill="#8fb89a"/><rect x="539.00" y="383.65" width="41.20" height="30.6" rx="0.8" fill="#90c09f"/><rect x="582.40" y="383.65" width="6.00" height="30.6" rx="0.8" fill="#90c09f"/><rect x="598.40" y="383.65" width="25.10" height="30.6" rx="0.8" fill="#90c09f"/><rect x="623.50" y="383.65" width="3.30" height="30.6" rx="0.8" fill="#acd58a"/><rect x="507.30" y="420.25" width="6.10" height="30.6" rx="0.8" fill="#90c09f"/><rect x="649.30" y="420.25" width="4.50" height="30.6" rx="0.8" fill="#86b995"/><rect x="653.60" y="420.25" width="2.00" height="30.6" rx="0.8" fill="#237e49"/><rect x="395.10" y="456.85" width="18.70" height="30.6" rx="0.8" fill="#90c09f"/><rect x="540.90" y="456.85" width="6.00" height="30.6" rx="0.8" fill="#90c09f"/><rect x="651.50" y="456.85" width="5.80" height="30.6" rx="0.8" fill="#9bd451"/><rect x="392.60" y="493.45" width="11.60" height="30.6" rx="0.8" fill="#90c09f"/><rect x="406.70" y="493.45" width="12.10" height="30.6" rx="0.8" fill="#d998a1"/><rect x="421.80" y="493.45" width="25.60" height="30.6" rx="0.8" fill="#f58b97"/><rect x="470.20" y="493.45" width="12.70" height="30.6" rx="0.8" fill="#90c09f"/><rect x="493.00" y="493.45" width="18.70" height="30.6" rx="0.8" fill="#90c09f"/><rect x="515.00" y="493.45" width="11.60" height="30.6" rx="0.8" fill="#90c09f"/><rect x="526.60" y="493.45" width="9.40" height="30.6" rx="0.8" fill="#d4969c"/><rect x="536.00" y="493.45" width="14.00" height="30.6" rx="0.8" fill="#8fb597"/><rect x="550.00" y="493.45" width="6.30" height="30.6" rx="0.8" fill="#d4969c"/><rect x="556.30" y="493.45" width="9.90" height="30.6" rx="0.8" fill="#8fb597"/><rect x="566.20" y="493.45" width="1.40" height="30.6" rx="0.8" fill="#d4969c"/><rect x="567.60" y="493.45" width="9.60" height="30.6" rx="0.8" fill="#8fb597"/><rect x="577.20" y="493.45" width="16.10" height="30.6" rx="0.8" fill="#dc9aa2"/><rect x="628.40" y="493.45" width="25.80" height="30.6" rx="0.8" fill="#90c09f"/><rect x="659.20" y="493.45" width="7.40" height="30.6" rx="0.8" fill="#f7cd3c"/><rect x="668.60" y="493.45" width="6.80" height="30.6" rx="0.8" fill="#f7cd3c"/><rect x="675.40" y="493.45" width="18.50" height="30.6" rx="0.8" fill="#b9495b"/><rect x="392.60" y="530.05" width="35.80" height="30.6" rx="0.8" fill="#b4d88c"/><rect x="435.00" y="530.05" width="6.00" height="30.6" rx="0.8" fill="#90c09f"/><rect x="441.00" y="530.05" width="3.90" height="30.6" fill="url(#hp)"/><rect x="495.80" y="530.05" width="38.20" height="30.6" rx="0.8" fill="#90c09f"/><rect x="536.20" y="530.05" width="24.80" height="30.6" rx="0.8" fill="#90c09f"/><rect x="561.00" y="530.05" width="17.80" height="30.6" rx="0.8" fill="#b4d88c"/><rect x="596.50" y="530.05" width="6.60" height="30.6" rx="0.8" fill="#90c09f"/><rect x="603.10" y="530.05" width="2.80" height="30.6" fill="url(#hp)"/><rect x="646.30" y="530.05" width="7.10" height="30.6" rx="0.8" fill="#c6e3a2"/><rect x="653.40" y="530.05" width="24.80" height="30.6" rx="0.8" fill="#9bd451"/><rect x="678.20" y="530.05" width="63.50" height="30.6" rx="0.8" fill="#ad514e"/><rect x="470.20" y="566.65" width="6.10" height="30.6" rx="0.8" fill="#90c09f"/><rect x="478.70" y="566.65" width="5.30" height="30.6" rx="0.8" fill="#90c09f"/><rect x="484.00" y="566.65" width="6.60" height="30.6" rx="0.8" fill="#d4969c"/><rect x="633.40" y="566.65" width="12.60" height="30.6" rx="0.8" fill="#90c09f"/><rect x="646.00" y="566.65" width="6.30" height="30.6" rx="0.8" fill="#a8cf8e"/></svg>
<div class="b" style="left:654.3px;top:216.9px;width:33.2px;height:16.6px;background:#ea3a52;border-radius:0 2.5px 2.5px 0"></div>
<span class="t" style="top:223.00px;font-size:6.6px;color:#fff;font-weight:700;left:658.75px;">5:16 PM</span>
<div class="b" style="left:120px;top:588px;width:680px;height:12px;background:linear-gradient(to bottom,rgba(60,60,70,0),rgba(60,60,70,0.05) 50%,rgba(60,60,70,0.13));-webkit-mask-image:linear-gradient(to right,transparent,#000 25%);mask-image:linear-gradient(to right,transparent,#000 25%)"></div>
</div></body></html>
